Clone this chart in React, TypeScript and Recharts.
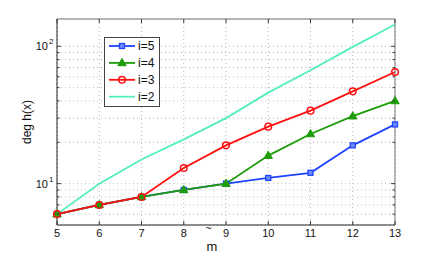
import React from 'react';
import { LineChart, Line, XAxis, YAxis, CartesianGrid } from 'recharts';

const mValues = [5, 6, 7, 8, 9, 10, 11, 12, 13];
const i5 = [6, 7, 8, 9, 10, 11, 12, 19, 27];
const i4 = [6, 7, 8, 9, 10, 16, 23, 31, 40];
const i3 = [6, 7, 8, 13, 19, 26, 34, 47, 65];
const i2 = [6, 10, 15, 21, 30, 46, 67, 99, 144];
const xTicks = [5, 6, 7, 8, 9, 10, 11, 12, 13];
const yTicks = [6, 7, 8, 9, 10, 20, 30, 40, 50, 60, 70, 80, 90, 100];
const yMajor = [10, 100];

const data = mValues.map((m, k) => ({ m, i5: i5[k], i4: i4[k], i3: i3[k], i2: i2[k] }));

const FONT = '"Liberation Sans", Arial, sans-serif';
const AX = '#3a3a3a';

const series = [
  { key: 'i5', name: 'i=5', color: '#1f44ff', marker: 'square' },
  { key: 'i4', name: 'i=4', color: '#1e9c0a', marker: 'triangle' },
  { key: 'i3', name: 'i=3', color: '#ff1010', marker: 'circle' },
  { key: 'i2', name: 'i=2', color: '#55f0b8', marker: 'none' },
];

const Marker = ({ cx, cy, type, color }: any) => {
  if (cx == null || cy == null) return null;
  if (type === 'square')
    return <rect x={cx - 2.5} y={cy - 2.5} width={5} height={5} fill="#6f8cff" stroke={color} strokeWidth={1.3} />;
  if (type === 'triangle')
    return <polygon points={`${cx},${cy - 4.5} ${cx + 4.2},${cy + 2.8} ${cx - 4.2},${cy + 2.8}`} fill={color} stroke={color} strokeWidth={1} />;
  if (type === 'circle')
    return <circle cx={cx} cy={cy} r={3.3} fill="none" stroke={color} strokeWidth={1.5} />;
  return null;
};

const makeDot = (type: string, color: string) => (props: any) => (
  <Marker key={`${type}-${props.index}`} cx={props.cx} cy={props.cy} type={type} color={color} />
);

const YTick = (side: 'left' | 'right') => (props: any) => {
  const { x, y, payload } = props;
  const v = payload.value;
  const major = yMajor.includes(v);
  const len = major ? 4 : 2.5;
  return (
    <g>
      <line x1={x} x2={side === 'left' ? x + len : x - len} y1={y} y2={y} stroke={AX} strokeWidth={1} />
      {side === 'left' && major && (
        <text x={x - 9} y={y + 4} textAnchor="end" fontSize={11} fontFamily={FONT} fill="#111">
          10
        </text>
      )}
      {side === 'left' && major && (
        <text x={x - 8} y={y - 2} textAnchor="start" fontSize={8} fontFamily={FONT} fill="#111">
          {v === 10 ? '1' : '2'}
        </text>
      )}
    </g>
  );
};

const XTick = (side: 'bottom' | 'top') => (props: any) => {
  const { x, y, payload } = props;
  return (
    <g>
      <line x1={x} x2={x} y1={y} y2={side === 'bottom' ? y - 4 : y + 4} stroke={AX} strokeWidth={1} />
      {side === 'bottom' && (
        <text x={x} y={y + 12} textAnchor="middle" fontSize={11} fontFamily={FONT} fill="#111">
          {payload.value}
        </text>
      )}
    </g>
  );
};

const LegendBox = () => (
  <svg width={56} height={70} style={{ display: 'block' }}>
    <rect x={0.5} y={0.5} width={55} height={69} fill="#fff" stroke="#444" strokeWidth={1} />
    {series.map((s, k) => {
      const cy = 9 + k * 16.9;
      return (
        <g key={s.key}>
          <line x1={5} x2={31} y1={cy} y2={cy} stroke={s.color} strokeWidth={1.8} />
          <Marker cx={18} cy={cy} type={s.marker} color={s.color} />
          <text x={34} y={cy + 4.3} fontSize={12} fontFamily={FONT} fill="#111">
            {s.name}
          </text>
        </g>
      );
    })}
  </svg>
);

export default function App() {
  return (
    <div style={{ position: 'absolute', left: 0, top: 0, width: 436, height: 254, background: '#fff' }}>
      <LineChart width={436} height={254} data={data} margin={{ top: 0, right: 0, bottom: 0, left: 0 }}>
        <CartesianGrid xAxisId="b" yAxisId="l" stroke="#b8b8b8" strokeDasharray="1 3" strokeWidth={1} />
        <XAxis
          xAxisId="b"
          dataKey="m"
          type="number"
          domain={[5, 13]}
          ticks={xTicks}
          height={29}
          tickSize={0}
          tickMargin={0}
          tick={XTick('bottom')}
          axisLine={{ stroke: '#222', strokeWidth: 1 }}
          tickLine={false}
          interval={0}
        />
        <XAxis
          xAxisId="t"
          orientation="top"
          dataKey="m"
          type="number"
          domain={[5, 13]}
          ticks={xTicks}
          height={19}
          tickSize={0}
          tickMargin={0}
          tick={XTick('top')}
          axisLine={{ stroke: '#777', strokeWidth: 1 }}
          tickLine={false}
          interval={0}
        />
        <YAxis
          yAxisId="l"
          scale="log"
          domain={[5, 158]}
          allowDataOverflow
          ticks={yTicks}
          width={57}
          tickSize={0}
          tickMargin={0}
          tick={YTick('left')}
          axisLine={{ stroke: '#222', strokeWidth: 1 }}
          tickLine={false}
          interval={0}
        />
        <YAxis
          yAxisId="r"
          orientation="right"
          scale="log"
          domain={[5, 158]}
          allowDataOverflow
          ticks={yTicks}
          width={41}
          tickSize={0}
          tickMargin={0}
          tick={YTick('right')}
          axisLine={{ stroke: '#777', strokeWidth: 1 }}
          tickLine={false}
          interval={0}
        />
        {series.map((s) => (
          <Line
            key={s.key}
            xAxisId="b"
            yAxisId="l"
            dataKey={s.key}
            name={s.name}
            stroke={s.color}
            strokeWidth={1.8}
            type="linear"
            dot={s.marker === 'none' ? false : makeDot(s.marker, s.color)}
            activeDot={false}
            isAnimationActive={false}
          />
        ))}
        <text x={27} y={122} transform="rotate(-90 27 122)" textAnchor="middle" dominantBaseline="central" fontSize={12} fontFamily={FONT} fill="#111">
          deg h(x)
        </text>
        <text x={208.5} y={232} textAnchor="middle" fontSize={11} fontFamily={FONT} fill="#111">
          ~
        </text>
        <text x={212} y={251} textAnchor="middle" fontSize={13} fontFamily={FONT} fill="#111">
          m
        </text>
      </LineChart>
      <div style={{ position: 'absolute', left: 104, top: 37 }}>
        <LegendBox />
      </div>
    </div>
  );
}
